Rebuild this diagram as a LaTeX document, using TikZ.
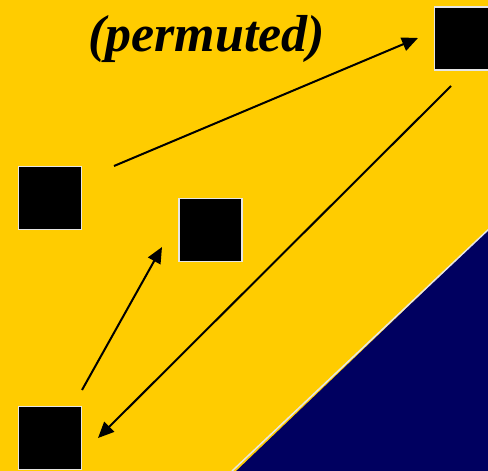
\documentclass[tikz,border=0pt]{standalone}
\usepackage{fontspec}
\setmainfont{Liberation Serif}
\usetikzlibrary{arrows.meta}
\definecolor{bgyellow}{RGB}{255,204,0}
\definecolor{navy}{RGB}{0,0,96}
\definecolor{edgewhite}{RGB}{230,230,230}
\tikzset{
  sq/.style={draw=edgewhite, line width=1.5pt, fill=black, minimum size=63pt, inner sep=0pt},
  conn/.style={line width=2pt, -{Triangle[length=16pt,width=14pt]}},
}
\begin{document}
\begin{tikzpicture}[x=1pt,y=-1pt]
\useasboundingbox (0,0) rectangle (488,471);
\clip (0,0) rectangle (488,471);
\fill[bgyellow] (0,0) rectangle (488,471);
\fill[navy] (488,230) -- (488,475) -- (232,475) -- cycle;
\draw[edgewhite, line width=1.5pt] (490,228) -- (232,471);
\node[anchor=base, font=\fontsize{52}{58}\selectfont\bfseries\itshape] (title) at (206.5,52) {(permuted)};
\node[sq] (A) at (50,198) {};
\node[sq] (B) at (210.5,230) {};
\node[sq] (C) at (50,438) {};
\node[sq] (D) at (466,38.5) {};
\coordinate (a1) at (114,166);
\coordinate (d1) at (418,38);
\coordinate (d2) at (451,86);
\coordinate (c2) at (98,438);
\coordinate (c3) at (82,390);
\coordinate (b3) at (162,247);
\draw[conn] (a1) -- (d1);
\draw[conn] (d2) -- (c2);
\draw[conn] (c3) -- (b3);
\end{tikzpicture}
\end{document}
